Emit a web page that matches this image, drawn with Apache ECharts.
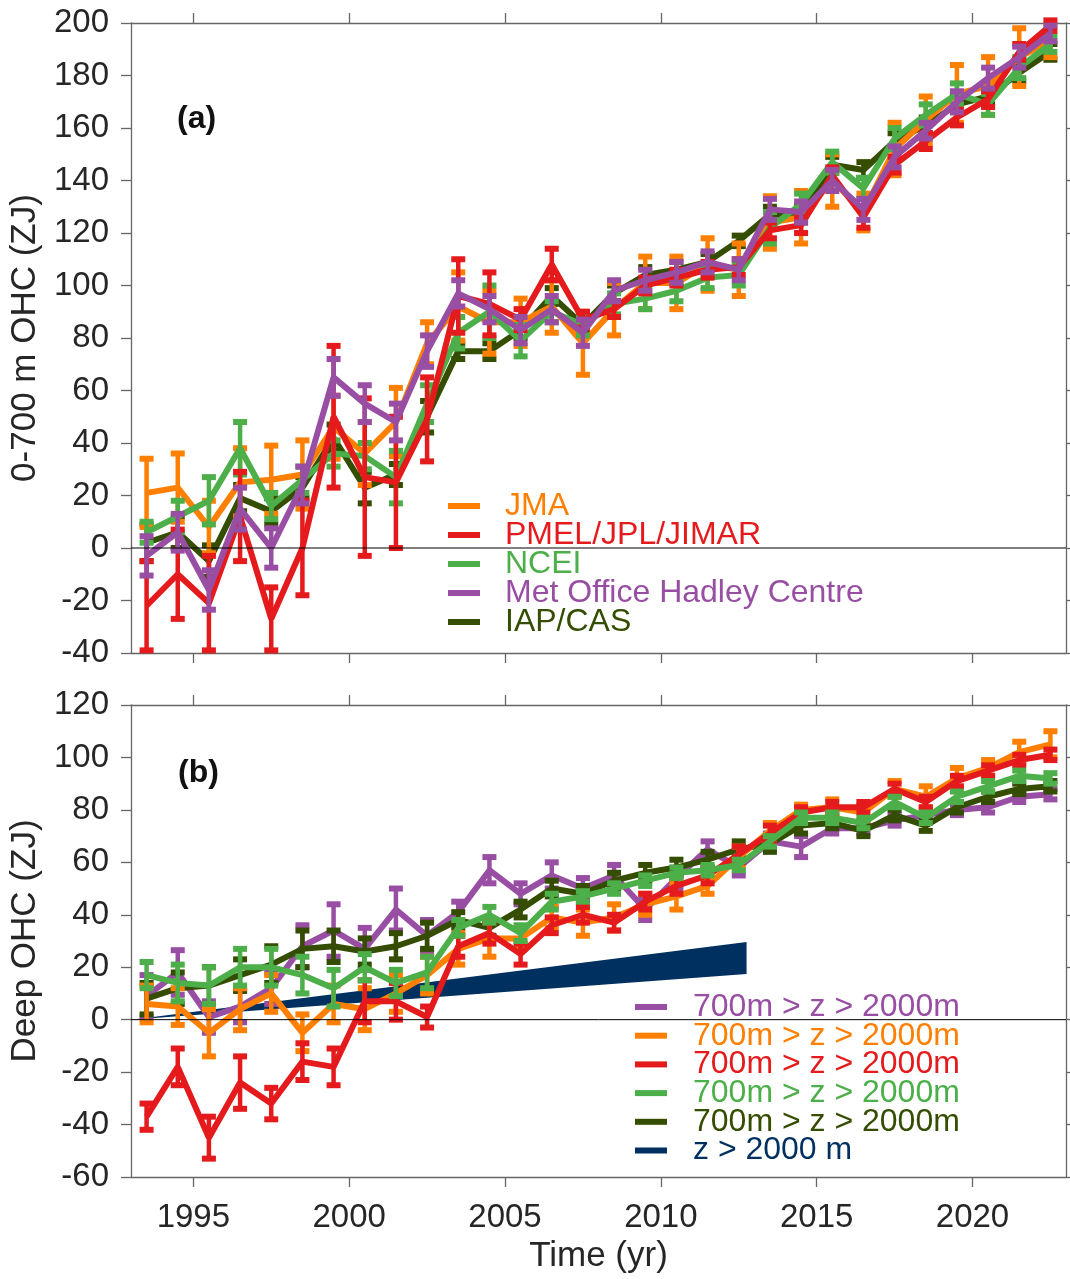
<!DOCTYPE html>
<html>
<head>
<meta charset="utf-8">
<script src="https://cdn.jsdelivr.net/npm/echarts@6/dist/echarts.min.js"></script>
<style>
html,body{margin:0;padding:0;background:#fff;}
#chart{width:1070px;height:1279px;}
</style>
</head>
<body>
<div id="chart"></div>
<script>
// ---------- DATA ----------
const years = [1993.5,1994.5,1995.5,1996.5,1997.5,1998.5,1999.5,2000.5,2001.5,2002.5,
               2003.5,2004.5,2005.5,2006.5,2007.5,2008.5,2009.5,2010.5,2011.5,2012.5,
               2013.5,2014.5,2015.5,2016.5,2017.5,2018.5,2019.5,2020.5,2021.5,2022.5];
const tickYears = [1995, 2000, 2005, 2010, 2015, 2020];

// Panel (a): 0-700 m OHC (ZJ)
const jmaTop      = [21,23,8,25,26,28,46,36,48,78, 92,86,86,92,78,91,101,101,108,106, 124,126,140,128,152,163,173,176,187,193];
const jmaTopErr   = [13,13,10,13,13,13,12,12,13,8, 13,12,9,10,12,10,10,10,10,10, 10,10,10,7,10,9,11,11,11,6];
const pmelTop     = [-22,-10,-21,12,-27,0,50,27,25,49, 96,93,87,108,87,91,100,103,106,107, 121,123,142,126,146,155,164,171,189,199];
const pmelTopErr  = [17,17,18,17,12,18,27,30,25,16, 14,12,4,6,3,3,3,3,3,3, 3,3,3,4,3,3,3,3,3,2];
const nceiTop     = [6,12,18,38,16,26,36,35,27,55, 82,90,79,90,85,93,95,98,103,104, 122,131,147,137,156,165,173,169,183,192];
const nceiTopErr  = [4,6,9,10,5,5,5,5,10,7, 6,10,6,4,4,4,4,4,4,4, 6,4,4,4,4,4,4,4,4,3];
const hadTop      = [-3,6,-16,15,0,24,65,55,48,75, 97,91,83,91,82,98,102,105,109,106, 129,128,140,129,149,159,170,179,187,196];
const hadTopErr   = [7.5,7,7.5,8,7.5,7,7,7,7,6, 5,5,5,5,5,4,4,4,4,4, 4,4,4,4,4,3,4,4,4,3];
const iapTop      = [2,6,-5,19,14,23,42,23,28,50, 75,75,83,96,85,97,104,106,109,117, 127,127,146,144,155,161,169,172,181,189];
const iapTopErr   = [7,6,6,5,5,4,5,6,4,6, 3,3,3,3,3,3,3,3,3,2, 3,3,3,3,3,3,3,3,3,3];

// Panel (b): Deep OHC (ZJ), 700m-2000m
const hadDeep     = [9,18,1,5,12,28,34,27,42,32, 41,57,48,55,50,55,42,54,65,58, 68,66,73,73,76,78,80,81,85,86];
const hadDeepErr  = [8,8.5,6,6,6,8,10,8,8,6, 4,5,4,5,4,4,4,4,3,3, 3,4,2,2,2,2,2,2,2,2];
const jmaDeep     = [6,5,-5,4,10,-5,6,4,10,17, 27,31,31,39,37,39,44,47,51,62, 72,80,81,79,88,85,92,96,102,105];
const jmaDeepErr  = [7,7,9,8,7,7,7,8,7,7, 6,7,4,4,5,5,4,5,3,4, 3,2,3,3,3,4,4,3,4,5];
const pmelDeep    = [-37,-18,-45,-24,-32,-16,-18,7,7,1, 28,33,25,36,40,37,45,51,55,63, 71,79,81,81,88,83,91,95,99,101];
const pmelDeepErr = [5,7,8,10,6,7,7,8,7,4, 4,4,4,3,3,3,3,3,3,3, 3,2,2,2,2,2,2,2,2,2];
const nceiDeep    = [17,14,13,20,20,17,12,20,14,18, 35,40,33,45,47,50,53,56,57,59, 68,77,77,75,83,77,85,89,93,92];
const nceiDeepErr = [5,7,7,7,7,7,7,5,5,6, 3,3,3,3,2,2,2,2,2,2, 2,2,2,2,2,2,2,2,2,2];
const iapDeep     = [8,12,13,17,21,27,28,26,28,32, 38,35,42,50,48,53,56,58,61,65, 67,74,75,72,78,74,81,85,88,89];
const iapDeepErr  = [6,6,7,6,7,7,6,5,5,5, 3,3,3,3,3,3,3,3,3,3, 3,3,2,2,2,2,2,2,2,2];

// z > 2000 m wedge
const wedgeYears = [1993, 2012.75];
const wedgeLow   = [0, 17.4];
const wedgeHigh  = [0, 29.6];

const zeroSpan = [1993, 2023];

// ---------- STYLE ----------
const C = {
  jma: '#FF7F00', pmel: '#E41A1C', ncei: '#4DAF4A', had: '#984EA3', iap: '#344D00', deep: '#00305F'
};
const FONT = '"Liberation Sans", Arial, Helvetica, sans-serif';
const TXT = '#262626';
const AX = '#666666';

const chart = echarts.init(document.getElementById('chart'), null, {renderer: 'canvas'});

function pairs(v) { return years.map((t, i) => [t, v[i]]); }
function triples(v, e) { return years.map((t, i) => [t, v[i], e[i]]); }

function errRender(params, api) {
  const x = api.value(0), y = api.value(1), e = api.value(2);
  const top = api.coord([x, y + e]);
  const bot = api.coord([x, y - e]);
  const color = api.visual('color');
  const cw = 14, ch = 6;
  return {
    type: 'group',
    children: [
      {type: 'line', shape: {x1: top[0], y1: top[1], x2: bot[0], y2: bot[1]}, style: {stroke: color, lineWidth: 4.5}},
      {type: 'rect', shape: {x: top[0] - cw / 2, y: top[1] - ch / 2, width: cw, height: ch}, style: {fill: color}},
      {type: 'rect', shape: {x: bot[0] - cw / 2, y: bot[1] - ch / 2, width: cw, height: ch}, style: {fill: color}}
    ]
  };
}

function wedgeRender(params, api) {
  const pts = [];
  for (let i = 0; i < wedgeYears.length; i++) pts.push(api.coord([wedgeYears[i], wedgeLow[i]]));
  for (let i = wedgeYears.length - 1; i >= 0; i--) pts.push(api.coord([wedgeYears[i], wedgeHigh[i]]));
  return {type: 'polygon', shape: {points: pts}, style: {fill: api.visual('color')}};
}

function lineSeries(name, vals, color, xi, yi, z) {
  return {
    name: name, type: 'line', data: pairs(vals), xAxisIndex: xi, yAxisIndex: yi,
    showSymbol: false, symbol: 'none', z: z,
    lineStyle: {color: color, width: 6}, itemStyle: {color: color}, animation: false
  };
}
function errSeries(name, vals, errs, color, xi, yi, z) {
  return {
    name: name, type: 'custom', data: triples(vals, errs), xAxisIndex: xi, yAxisIndex: yi,
    renderItem: errRender, itemStyle: {color: color}, z: z, animation: false, silent: true,
    encode: {x: 0, y: 1}
  };
}

const axisLineStyle = {color: AX, width: 1.3};

function xAx(gridIndex, pos, showLabel, name) {
  return {
    type: 'value', gridIndex: gridIndex, position: pos, min: 1993, max: 2023,
    axisLine: {show: true, onZero: false, lineStyle: axisLineStyle},
    axisTick: {show: true, inside: false, length: 10, customValues: tickYears, lineStyle: axisLineStyle},
    axisLabel: {show: showLabel, customValues: tickYears, fontSize: 33, color: TXT, fontFamily: FONT, margin: 24,
                formatter: function (v) { return String(v); }},
    splitLine: {show: false},
    name: name || '', nameLocation: 'middle', nameGap: 62,
    nameTextStyle: {fontSize: 35, color: TXT, fontFamily: FONT}
  };
}
function yAx(gridIndex, pos, min, max, showLabel, name) {
  return {
    type: 'value', gridIndex: gridIndex, position: pos, min: min, max: max, interval: 20,
    axisLine: {show: true, onZero: false, lineStyle: axisLineStyle},
    axisTick: {show: true, inside: false, length: 10, lineStyle: axisLineStyle},
    axisLabel: {show: showLabel, fontSize: 33, color: TXT, fontFamily: FONT, margin: 22},
    splitLine: {show: false},
    name: name || '', nameLocation: 'middle', nameGap: 84,
    nameTextStyle: {fontSize: 35, color: TXT, fontFamily: FONT}
  };
}

function legendItem(name, color) {
  return {name: name, itemStyle: {color: color}, textStyle: {color: color}};
}

const deepLabel = '700m > z > 2000m';

const option = {
  backgroundColor: '#ffffff',
  animation: false,
  textStyle: {fontFamily: FONT},
  grid: [
    {left: 131, right: 4, top: 23, height: 630},
    {left: 131, right: 4, top: 705, height: 472}
  ],
  xAxis: [
    xAx(0, 'bottom', false),
    xAx(0, 'top', false),
    xAx(1, 'bottom', true, 'Time (yr)'),
    xAx(1, 'top', false)
  ],
  yAxis: [
    yAx(0, 'left', -40, 200, true, '0-700 m OHC (ZJ)'),
    yAx(0, 'right', -40, 200, false),
    yAx(1, 'left', -60, 120, true, 'Deep OHC (ZJ)'),
    yAx(1, 'right', -60, 120, false)
  ],
  legend: [
    {
      orient: 'vertical', left: 443, top: 485, itemWidth: 32, itemHeight: 6, itemGap: -3,
      icon: 'rect', selectedMode: false,
      textStyle: {fontSize: 32, fontFamily: FONT, padding: [0, 0, 0, 20]},
      data: [
        legendItem('JMA', C.jma), legendItem('PMEL/JPL/JIMAR', C.pmel), legendItem('NCEI', C.ncei),
        legendItem('Met Office Hadley Centre', C.had), legendItem('IAP/CAS', C.iap)
      ]
    },
    {
      orient: 'vertical', left: 630, top: 986, itemWidth: 32, itemHeight: 6, itemGap: -3.3,
      icon: 'rect', selectedMode: false,
      textStyle: {fontSize: 32, fontFamily: FONT, padding: [0, 0, 0, 21]},
      formatter: function (name) { return name === 'z > 2000 m' ? name : deepLabel; },
      data: [
        legendItem('Hadley deep', C.had), legendItem('JMA deep', C.jma), legendItem('PMEL deep', C.pmel),
        legendItem('NCEI deep', C.ncei), legendItem('IAP deep', C.iap), legendItem('z > 2000 m', C.deep)
      ]
    }
  ],
  graphic: [
    {type: 'text', left: 177, top: 103, style: {text: '(a)', fontSize: 32, fontWeight: 'bold', fill: '#111', fontFamily: FONT}},
    {type: 'text', left: 178, top: 757, style: {text: '(b)', fontSize: 32, fontWeight: 'bold', fill: '#111', fontFamily: FONT}}
  ],
  series: [
    // ---- panel (a) ----
    errSeries('IAP/CAS', iapTop, iapTopErr, C.iap, 0, 0, 2),
    lineSeries('IAP/CAS', iapTop, C.iap, 0, 0, 2),
    errSeries('JMA', jmaTop, jmaTopErr, C.jma, 0, 0, 3),
    lineSeries('JMA', jmaTop, C.jma, 0, 0, 3),
    errSeries('NCEI', nceiTop, nceiTopErr, C.ncei, 0, 0, 4),
    lineSeries('NCEI', nceiTop, C.ncei, 0, 0, 4),
    errSeries('PMEL/JPL/JIMAR', pmelTop, pmelTopErr, C.pmel, 0, 0, 5),
    lineSeries('PMEL/JPL/JIMAR', pmelTop, C.pmel, 0, 0, 5),
    errSeries('Met Office Hadley Centre', hadTop, hadTopErr, C.had, 0, 0, 6),
    lineSeries('Met Office Hadley Centre', hadTop, C.had, 0, 0, 6),
    {
      name: 'zeroA', type: 'line', xAxisIndex: 0, yAxisIndex: 0, z: 10, silent: true, symbol: 'none',
      data: zeroSpan.map(t => [t, 0]), lineStyle: {color: '#000', width: 1}
    },
    // ---- panel (b) ----
    {
      name: 'z > 2000 m', type: 'custom', xAxisIndex: 2, yAxisIndex: 2, z: 1, silent: true,
      data: [[wedgeYears[0], wedgeLow[0]]], renderItem: wedgeRender, itemStyle: {color: C.deep},
      encode: {x: 0, y: 1}
    },
    errSeries('Hadley deep', hadDeep, hadDeepErr, C.had, 2, 2, 2),
    lineSeries('Hadley deep', hadDeep, C.had, 2, 2, 2),
    errSeries('IAP deep', iapDeep, iapDeepErr, C.iap, 2, 2, 3),
    lineSeries('IAP deep', iapDeep, C.iap, 2, 2, 3),
    errSeries('JMA deep', jmaDeep, jmaDeepErr, C.jma, 2, 2, 4),
    lineSeries('JMA deep', jmaDeep, C.jma, 2, 2, 4),
    errSeries('PMEL deep', pmelDeep, pmelDeepErr, C.pmel, 2, 2, 5),
    lineSeries('PMEL deep', pmelDeep, C.pmel, 2, 2, 5),
    errSeries('NCEI deep', nceiDeep, nceiDeepErr, C.ncei, 2, 2, 6),
    lineSeries('NCEI deep', nceiDeep, C.ncei, 2, 2, 6),
    {
      name: 'zeroB', type: 'line', xAxisIndex: 2, yAxisIndex: 2, z: 10, silent: true, symbol: 'none',
      data: zeroSpan.map(t => [t, 0]), lineStyle: {color: '#000', width: 1}
    }
  ]
};

chart.setOption(option);
</script>
</body>
</html>
